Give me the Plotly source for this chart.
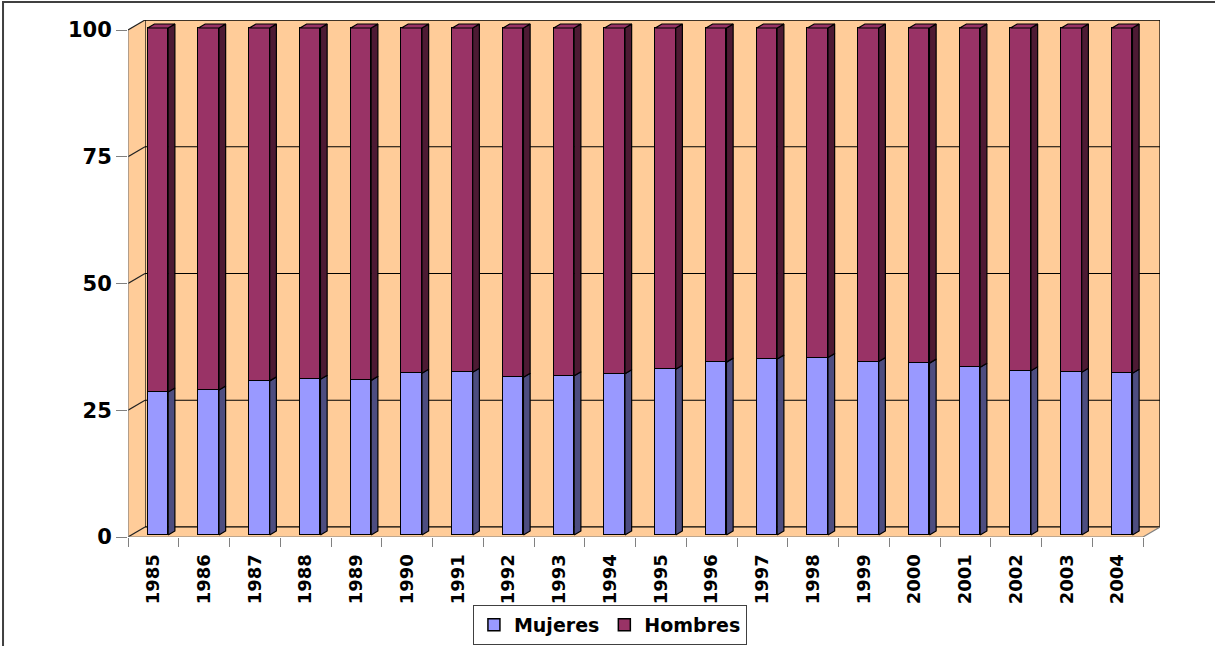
import plotly.graph_objects as go

years = ["1985", "1986", "1987", "1988", "1989", "1990", "1991", "1992", "1993", "1994",
         "1995", "1996", "1997", "1998", "1999", "2000", "2001", "2002", "2003", "2004"]
mujeres = [28.2, 28.6, 30.4, 30.7, 30.5, 31.9, 32.1, 31.1, 31.4, 31.8,
           32.7, 34.1, 34.7, 35.0, 34.2, 33.9, 33.1, 32.4, 32.1, 31.9]
hombres = [71.8, 71.4, 69.6, 69.3, 69.5, 68.1, 67.9, 68.9, 68.6, 68.2,
           67.3, 65.9, 65.3, 65.0, 65.8, 66.1, 66.9, 67.6, 67.9, 68.1]
y_ticks = [0, 25, 50, 75, 100]

FONT = "DejaVu Sans"
n = len(years)
xs = list(range(n))

# 3D geometry (axis units)
DX, DY = 0.335, 1.972          # wall depth
BOFF, BW = -0.112, 0.404        # bar front face offset / width
BDX, BDY = 0.132, 0.79          # bar depth
YMAX = 100 + DY

fig = go.Figure()

fig.add_trace(go.Bar(x=xs, y=mujeres, name="Mujeres", offset=BOFF, width=BW, yaxis="y2",
                     marker=dict(color="#9999FF", line=dict(color="black", width=1.5))))
fig.add_trace(go.Bar(x=xs, y=hombres, name="Hombres", offset=BOFF, width=BW, yaxis="y2",
                     marker=dict(color="#993366", line=dict(color="black", width=1.5))))

def side_poly(bottoms, tops):
    px, py = [], []
    for k in xs:
        xr = k + BOFF + BW
        y0, y1 = bottoms[k], tops[k]
        px += [xr, xr + BDX, xr + BDX, xr, xr, None]
        py += [y0, y0 + BDY, y1 + BDY, y1, y0, None]
    return px, py

zeros = [0] * n
tops_m = mujeres
tops_h = [m + h for m, h in zip(mujeres, hombres)]

for (b, t, col) in [(zeros, tops_m, "#4D4D80"), (tops_m, tops_h, "#4D1A33")]:
    px, py = side_poly(b, t)
    fig.add_trace(go.Scatter(x=px, y=py, mode="lines", fill="toself", fillcolor=col,
                             line=dict(color="black", width=1.2), yaxis="y2",
                             showlegend=False, hoverinfo="skip"))

# top faces
tx, ty = [], []
for k in xs:
    xl = k + BOFF
    xr = xl + BW
    t = tops_h[k]
    tx += [xl, xl + BDX, xr + BDX, xr, xl, None]
    ty += [t, t + BDY, t + BDY, t, t, None]
fig.add_trace(go.Scatter(x=tx, y=ty, mode="lines", fill="toself", fillcolor="#993366",
                         line=dict(color="black", width=1.2), yaxis="y2",
                         showlegend=False, hoverinfo="skip"))

x0 = -0.5
x1 = n - 0.5
shapes = []
peach = "#FFCC99"
# back wall
shapes.append(dict(type="rect", xref="x", yref="y", x0=x0 + DX, x1=x1 + DX, y0=DY, y1=100 + DY,
                   fillcolor=peach, line=dict(color="black", width=1.2), layer="below"))
# left side wall
shapes.append(dict(type="path", xref="x", yref="y",
                   path=f"M{x0},0 L{x0},100 L{x0+DX},{100+DY} L{x0+DX},{DY} Z",
                   fillcolor=peach, line=dict(width=0), layer="below"))
# floor
shapes.append(dict(type="path", xref="x", yref="y",
                   path=f"M{x0},0 L{x1},0 L{x1+DX},{DY} L{x0+DX},{DY} Z",
                   fillcolor=peach, line=dict(width=0), layer="below"))
# gridlines on back wall + side wall diagonals
for v in y_ticks:
    shapes.append(dict(type="line", xref="x", yref="y", x0=x0 + DX, x1=x1 + DX, y0=v + DY, y1=v + DY,
                       line=dict(color="black", width=1.2), layer="below"))
    shapes.append(dict(type="line", xref="x", yref="y", x0=x0, x1=x0 + DX, y0=v, y1=v + DY,
                       line=dict(color="#222222", width=1.2), layer="below"))
# front axis lines
shapes.append(dict(type="line", xref="x", yref="y", x0=x0, x1=x0, y0=0, y1=100,
                   line=dict(color="#808080", width=1.2)))
shapes.append(dict(type="line", xref="x", yref="y", x0=x0, x1=x1, y0=0, y1=0,
                   line=dict(color="#808080", width=1.2)))
shapes.append(dict(type="line", xref="x", yref="y", x0=x1, x1=x1 + DX, y0=0, y1=DY,
                   line=dict(color="#808080", width=1.2)))
# outer chart border
shapes.append(dict(type="rect", xref="paper", yref="paper", x0=-0.1211, x1=1.2, y0=-0.3, y1=1.0348,
                   line=dict(color="#404040", width=2), fillcolor="rgba(0,0,0,0)"))

fig.update_layout(
    width=1215, height=646,
    margin=dict(l=128, r=55, t=20, b=109, autoexpand=False),
    paper_bgcolor="white", plot_bgcolor="white",
    barmode="stack", bargap=0,
    shapes=shapes,
    font=dict(family=FONT, color="black"),
    xaxis=dict(range=[x0, x1 + DX], tickmode="array", tickvals=xs, ticktext=years,
               tickangle=-90, ticks="outside", ticklen=9, tickcolor="rgba(0,0,0,0)",
               tickfont=dict(family=FONT, size=18, weight="bold", color="black"),
               showgrid=False, zeroline=False, showline=False, automargin=False,
               minor=dict(tickmode="array", tickvals=[k - 0.5 for k in range(n + 1)],
                          ticks="outside", ticklen=9, tickcolor="#808080", tickwidth=1,
                          showgrid=False)),
    yaxis=dict(range=[0, YMAX], tickmode="array", tickvals=y_ticks,
               ticks="outside", ticklen=11, tickcolor="#808080", tickwidth=1,
               tickfont=dict(family=FONT, size=21, weight="bold", color="black"),
               showgrid=False, zeroline=False, showline=False, automargin=False),
    yaxis2=dict(range=[-0.394, YMAX - 0.394], overlaying="y", visible=False,
                showgrid=False, zeroline=False),
    legend=dict(orientation="h", xref="container", yref="container",
                x=0.502, y=1 - 605 / 646, xanchor="center", yanchor="top",
                traceorder="normal", bordercolor="#404040", borderwidth=1,
                font=dict(family=FONT, size=19, weight="bold", color="black"),
                bgcolor="white"),
    showlegend=True,
)

fig.write_html("out.html")
